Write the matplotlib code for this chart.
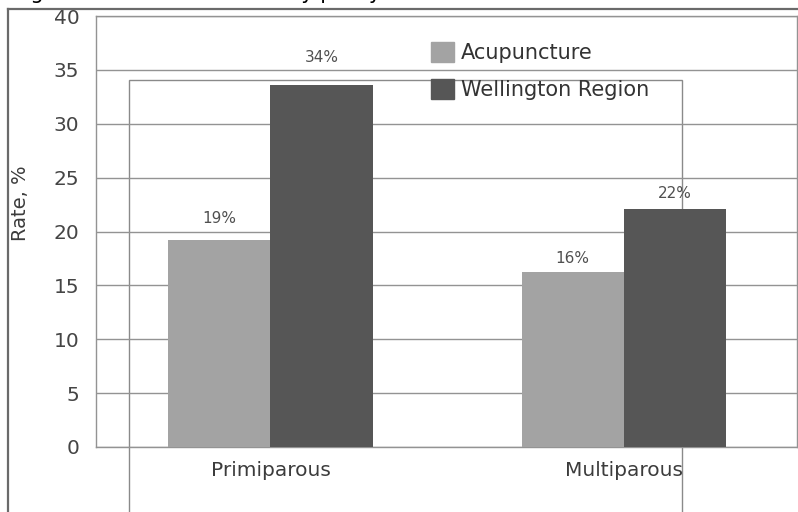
import matplotlib
matplotlib.use("Agg")
import matplotlib.pyplot as plt
from matplotlib.patches import Patch, Rectangle
from matplotlib.lines import Line2D
import numpy as np

categories = ["Primiparous", "Multiparous"]
series = ["Acupuncture", "Wellington Region"]
acupuncture = [19.2, 16.2]
wellington = [33.6, 22.1]
labels_acu = ["19%", "16%"]
labels_wel = ["34%", "22%"]
title = "Figure 2. Caesarean rates by parity"

light = "#a3a3a3"
dark = "#565656"
grid_c = "#939393"
text_c = "#3c3c3c"

W, H = 798, 512
fig = plt.figure(figsize=(W / 100, H / 100), dpi=100)
ax = fig.add_axes([96 / W, 1 - 447 / H, 701 / W, 431 / H])

x = np.arange(len(categories))
bw = 0.289
ax.bar(x - bw / 2, acupuncture, bw, color=light, zorder=3)
ax.bar(x + bw / 2, wellington, bw, color=dark, zorder=3)

# value labels (offsets in points above bar tops)
pad_acu = [10.5, 5]
pad_wel = [14.5, 6]
for i in range(len(categories)):
    ax.annotate(labels_acu[i], (x[i] - bw / 2, acupuncture[i]), xytext=(0, pad_acu[i]),
                textcoords="offset points", ha="center", va="bottom",
                fontsize=11, color="#505050")
    ax.annotate(labels_wel[i], (x[i] + bw / 2, wellington[i]), xytext=(0, pad_wel[i]),
                textcoords="offset points", ha="center", va="bottom",
                fontsize=11, color="#505050")

ax.set_xlim(-0.494, 1.491)
ax.set_ylim(0, 40)
ax.set_yticks(range(0, 41, 5))
ax.set_xticks(x)
ax.set_xticklabels(categories, fontsize=14.5, color=text_c)
ax.tick_params(axis="y", length=0, pad=12, labelsize=14.5, labelcolor="#454545")
ax.tick_params(axis="x", length=0, pad=10)
ax.yaxis.grid(True, color=grid_c, lw=1, zorder=0)
for s in ax.spines.values():
    s.set_color(grid_c)
    s.set_linewidth(1)

fig.text(20 / W, 1 - 203 / H, "Rate, %", rotation=90, ha="center", va="center",
         fontsize=14, color=text_c)

# scanned overlay frame behind the bars
ax.add_patch(Rectangle((129 / W, -0.2), (682 - 129) / W, 1.2 - 80 / H,
                       transform=fig.transFigure, fill=False, ec="#8a8a8a",
                       lw=1, clip_on=False, zorder=1.5))

# page border of the scan
fig.add_artist(Line2D([8 / W, 8 / W], [0, 1 - 9 / H], color="#6a6a6a", lw=1.6))
fig.add_artist(Line2D([8 / W, 1], [1 - 9 / H, 1 - 9 / H], color="#6a6a6a", lw=1.6))

# cut-off caption at the top edge
fig.text(14 / W, 1 + 1 / H, title, ha="left", va="baseline", fontsize=15, color="black")

handles = [Patch(color=light), Patch(color=dark)]
leg = ax.legend(handles, series, loc="upper left", bbox_to_anchor=(431 / W, 1 - 42 / H),
                bbox_transform=fig.transFigure, frameon=False, fontsize=15,
                handlelength=1.1, handleheight=1.1, handletextpad=0.35,
                labelspacing=0.75, borderpad=0, borderaxespad=0)
for t in leg.get_texts():
    t.set_color("#333333")

fig.savefig("out.png", dpi=100)
